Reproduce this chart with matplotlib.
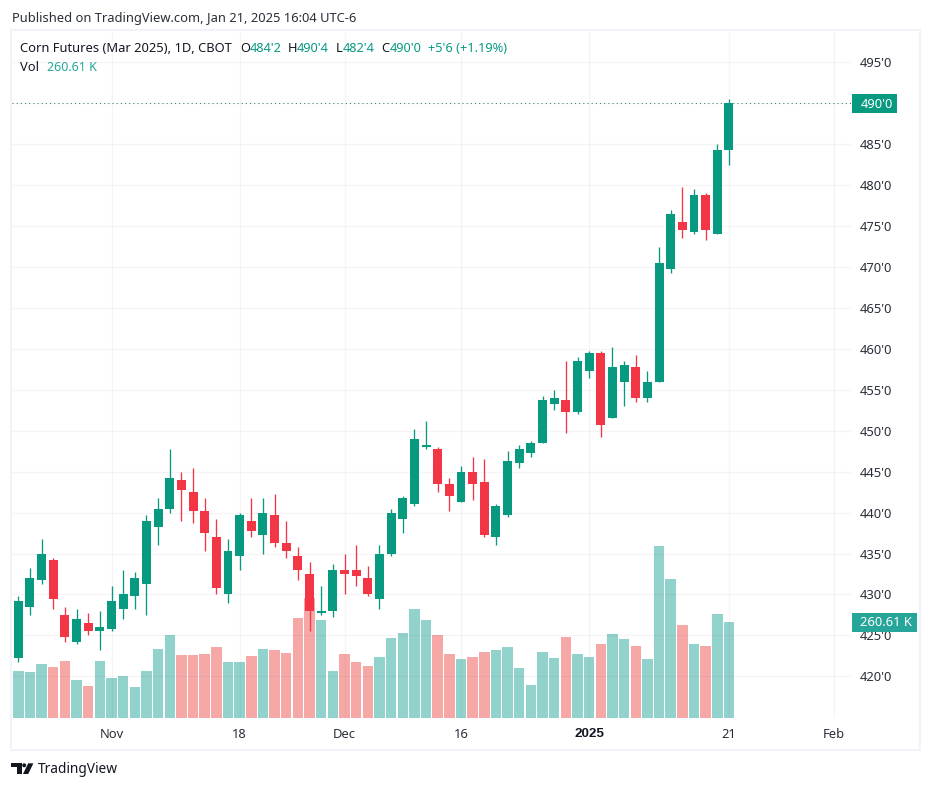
#
# Corn futures daily candles with volume, TradingView style.
#

import matplotlib.pyplot as plt
from matplotlib.patches import Rectangle, Polygon, Circle
import numpy as np

plt.rcParams['font.family'] = ['Noto Sans', 'DejaVu Sans']

opens = [422.25, 428.5, 431.75, 434.25, 427.5, 424.25, 426.5, 425.5, 425.75, 428.25,
         429.75, 431.25, 438.25, 440.5, 444, 442.5, 440.25, 437, 430, 434.75,
         439, 437.25, 439.75, 436.25, 434.75, 432.5, 427.75, 428, 433, 433,
         432, 429.5, 435, 439.25, 441, 448, 447.75, 443.5, 441.25, 445,
         443.75, 437, 439.75, 446, 447.25, 448.5, 453.25, 453.75, 452.25, 457.25,
         459.5, 451.5, 456, 457.75, 454, 456, 469.75, 475.5, 474.25, 478.75,
         474, 484.25]
highs = [429.75, 433.25, 436.75, 434.5, 428.5, 428.25, 427.75, 428, 431, 433,
         432.75, 439.75, 441.75, 447.75, 445, 445.5, 441.75, 439.25, 436.75, 440,
         441.75, 441.75, 442.25, 439, 435.75, 434, 431, 433.75, 435, 436,
         433.5, 436, 440.5, 442, 450.25, 451.25, 448, 444.25, 445.75, 446.75,
         446.5, 441, 447.5, 448.25, 448.75, 454.25, 455, 458.5, 459, 459.75,
         459.75, 460.25, 458.5, 459.25, 457.25, 472.5, 477, 479.75, 479.5, 479,
         485, 490.5]
lows = [421.75, 427.5, 431.25, 428.25, 424.25, 424, 425, 423.25, 425.5, 427,
        428.25, 427.5, 436, 440, 439, 438.75, 435.25, 430, 429, 433,
        437, 435, 435.75, 434.5, 431.75, 425.5, 427.5, 427.25, 430, 431,
        429.75, 428.25, 434.75, 437.5, 440.75, 447.75, 442.5, 440.25, 441.25, 441.5,
        437, 436, 439.5, 445.5, 446.75, 448.5, 452.5, 449.75, 452, 456.5,
        449.25, 451.5, 453, 453.5, 453.5, 456, 469.25, 473.5, 474, 473.25,
        474, 482.5]
closes = [429.25, 432, 435, 429.5, 424.75, 427, 425.5, 426, 429.25, 430,
          432, 439, 440.5, 444.25, 442.75, 440.25, 437.5, 430.75, 435.25, 439.75,
          437.75, 440, 436.25, 435.25, 433, 428, 428, 433, 432.5, 432.25,
          430, 435, 440, 441.75, 449, 448.25, 443.5, 442, 445, 443.5,
          437.25, 440.75, 446.25, 447.75, 448.5, 453.75, 454, 452.25, 458.5, 459.5,
          450.75, 457.75, 458, 454, 456, 470.5, 476.5, 474.5, 478.75, 474.5,
          484.25, 490]
# thousands of contracts, first entry is the bar cut off at the left edge
volumes = [103.2, 127.6, 124.9, 146.6, 138.5, 154.7, 103.2, 86.9, 154.7, 108.6,
           114, 84.2, 127.6, 187.3, 225.3, 171, 171, 173.7, 192.7, 152,
           152, 168.3, 187.3, 184.6, 176.5, 271.5, 325.8, 266, 127.6, 173.7,
           152, 141.2, 165.6, 217.2, 230.7, 295.9, 266, 225.3, 173.7, 160.2,
           165.6, 179.2, 184.6, 192.7, 135.7, 89.6, 179.2, 162.9, 219.9, 173.7,
           165.6, 200.9, 228, 214.5, 195.5, 160.2, 466.9, 377.3, 252.5, 200.9,
           195.5, 282.3, 260.61]

price_ticks = [420, 425, 430, 435, 440, 445, 450, 455, 460, 465, 470, 475, 480, 485, 490, 495]
price_labels = ["420'0", "425'0", "430'0", "435'0", "440'0", "445'0", "450'0", "455'0",
                "460'0", "465'0", "470'0", "475'0", "480'0", "485'0", "490'0", "495'0"]
date_ticks = [8, 19, 28, 38, 49, 61, 70]
date_labels = ['Nov', '18', 'Dec', '16', '2025', '21', 'Feb']

GREEN = '#089981'
RED = '#F23645'
VOL_GREEN = '#26A69A'
VOL_RED = '#EF5350'
TEXT = '#131722'
AXIS_TEXT = '#2A2E39'
W, H = 931, 789

fig = plt.figure(figsize=(W / 100, H / 100), dpi=100, facecolor='white')

# price pane runs from x 11.5 to 851, y 31 to 718
left, right, top, bottom = 11.5, 851, 31, 718
pos = [left / W, 1 - bottom / H, (right - left) / W, (bottom - top) / H]

ax_vol = fig.add_axes(pos, zorder=1)
ax = fig.add_axes(pos, zorder=2)
ax.patch.set_visible(False)

xs = np.arange(len(closes))
up = np.array(closes) >= np.array(opens)
colors = [GREEN if u else RED for u in up]

# volume
vol_x = np.arange(-1, len(closes))
vol_colors = [VOL_GREEN] + [VOL_GREEN if u else VOL_RED for u in up]
ax_vol.bar(vol_x, volumes, 0.9, color=vol_colors, alpha=0.5, linewidth=0)
ax_vol.set_ylim(0, (bottom - top) * 2.7147)
ax_vol.set_xlim((left - 18.3) / 11.65, (right - 18.3) / 11.65)
ax_vol.axis('off')

# candles
ax.vlines(xs, lows, highs, colors=colors, linewidth=0.95, zorder=3)
body_bottom = np.minimum(opens, closes)
body_height = np.abs(np.array(closes) - np.array(opens))
ax.bar(xs, body_height, 0.77, bottom=body_bottom, color=colors, linewidth=0, zorder=4)

ax.axhline(closes[-1], color='#3E7F73', linewidth=0.75, linestyle=(0, (1, 3)), zorder=2)

ax.set_xlim((left - 18.3) / 11.65, (right - 18.3) / 11.65)
ax.set_ylim(420 - (bottom - 676.3) / 8.185, 420 + (676.3 - top) / 8.185)
ax.yaxis.tick_right()
ax.set_yticks(price_ticks)
ax.set_yticklabels(price_labels)
ax.set_xticks(date_ticks)
ax.set_xticklabels(date_labels)
ax.tick_params(axis='y', length=0, pad=6.5, labelsize=9.3, labelcolor=AXIS_TEXT)
ax.tick_params(axis='x', length=0, pad=7, labelsize=9.3, labelcolor=AXIS_TEXT)
year_label = ax.get_xticklabels()[4]
year_label.set_fontfamily('Liberation Sans')
year_label.set_fontweight('bold')
year_label.set_fontsize(9.7)
year_label.set_color(TEXT)
ax.grid(True, color='#2A2E39', alpha=0.045, linewidth=1)
ax.set_axisbelow(True)
for s in ax.spines.values():
    s.set_visible(False)

# everything around the chart, placed in pixels
over = fig.add_axes([0, 0, 1, 1], zorder=3)
over.set_xlim(0, W)
over.set_ylim(H, 0)
over.axis('off')

over.add_patch(Rectangle((11, 30), 909, 720, fill=False, edgecolor='#F0F3FA', linewidth=1.5))

over.text(12, 18, 'Published on TradingView.com, Jan 21, 2025 16:04 UTC-6',
          fontsize=9.3, color=AXIS_TEXT, va='center')

over.text(20, 48, 'Corn Futures (Mar 2025), 1D, CBOT', fontsize=9.3, color=TEXT, va='center')
header = [(240, 'O', TEXT), (249.3, "484'2", GREEN), (287.7, 'H', TEXT), (296.7, "490'4", GREEN),
          (335.7, 'L', TEXT), (342.3, "482'4", GREEN), (381, 'C', TEXT), (389.3, "490'0", GREEN),
          (427.7, "+5'6 (+1.19%)", GREEN)]
for x, s, c in header:
    over.text(x, 48, s, fontsize=9.2, color=c, va='center')
over.text(20, 67, 'Vol', fontsize=9.3, color=TEXT, va='center')
over.text(46.7, 67, '260.61 K', fontsize=9.0, color=VOL_GREEN, va='center')

# last value pills
over.add_patch(Rectangle((852, 94), 45, 19, color=GREEN, linewidth=0))
over.text(860.5, 104, "490'0", fontsize=9.3, color='white', va='center')
over.add_patch(Rectangle((852, 613), 64.5, 19, color=VOL_GREEN, linewidth=0))
over.text(860.5, 623, '260.61 K', fontsize=9.3, color='white', va='center')

# logo
over.add_patch(Polygon([(11, 763.3), (22, 763.3), (22, 774), (16.7, 774), (16.7, 767.3), (11, 767.3)],
                       color=TEXT, linewidth=0))
over.add_patch(Circle((24.2, 765.3), 2, color=TEXT, linewidth=0))
over.add_patch(Polygon([(28.2, 763.3), (33.4, 763.3), (28.2, 774), (23, 774)], color=TEXT, linewidth=0))
over.text(38, 769.5, 'TradingView', fontsize=9.9, color=TEXT, va='center')

fig.savefig('out.png', dpi=100)
print('Processed ' + str(len(closes)))
